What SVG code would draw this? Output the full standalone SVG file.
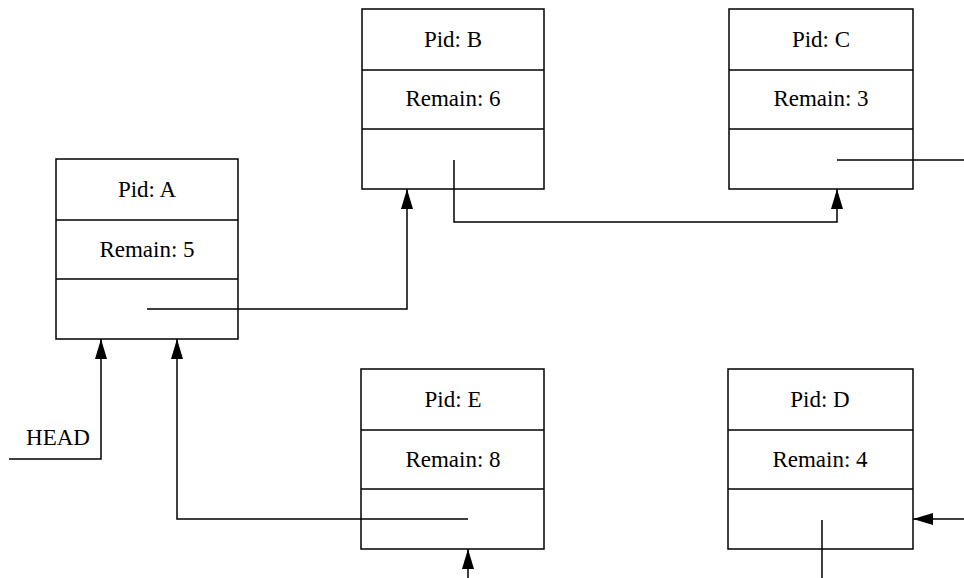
<svg xmlns="http://www.w3.org/2000/svg" width="964" height="578" viewBox="0 0 964 578">
  <style>
    .box { fill: #fff; stroke: #000; stroke-width: 1.5; }
    .div { stroke: #000; stroke-width: 1.5; }
    .lbl { font-family: "Liberation Serif", "Times New Roman", serif; font-size: 23px; fill: #000; text-anchor: middle; }
    .wire { fill: none; stroke: #000; stroke-width: 1.5; }
  </style>
  <defs>
    <marker id="arrow" viewBox="0 0 20 12" refX="20" refY="6" markerWidth="20" markerHeight="12" markerUnits="userSpaceOnUse" orient="auto">
      <path d="M0,0 L20,6 L0,12 z" fill="#000"/>
    </marker>
  </defs>
  <rect width="964" height="578" fill="#fff"/>

  <!-- process control blocks -->
  <g id="nodeA">
    <rect class="box" x="56" y="159" width="182" height="180"/>
    <line class="div" x1="56" y1="220" x2="238" y2="220"/>
    <line class="div" x1="56" y1="279" x2="238" y2="279"/>
    <text class="lbl" x="147" y="197">Pid: A</text>
    <text class="lbl" x="147" y="257">Remain: 5</text>
  </g>
  <g id="nodeB">
    <rect class="box" x="362" y="9" width="182" height="180"/>
    <line class="div" x1="362" y1="70" x2="544" y2="70"/>
    <line class="div" x1="362" y1="129" x2="544" y2="129"/>
    <text class="lbl" x="453" y="47">Pid: B</text>
    <text class="lbl" x="453" y="106">Remain: 6</text>
  </g>
  <g id="nodeC">
    <rect class="box" x="729" y="9" width="184" height="180"/>
    <line class="div" x1="729" y1="70" x2="913" y2="70"/>
    <line class="div" x1="729" y1="129" x2="913" y2="129"/>
    <text class="lbl" x="821" y="47">Pid: C</text>
    <text class="lbl" x="821" y="106">Remain: 3</text>
  </g>
  <g id="nodeE">
    <rect class="box" x="361" y="369" width="183" height="180"/>
    <line class="div" x1="361" y1="430" x2="544" y2="430"/>
    <line class="div" x1="361" y1="489" x2="544" y2="489"/>
    <text class="lbl" x="453" y="407">Pid: E</text>
    <text class="lbl" x="453" y="467">Remain: 8</text>
  </g>
  <g id="nodeD">
    <rect class="box" x="728" y="369" width="185" height="180"/>
    <line class="div" x1="728" y1="430" x2="913" y2="430"/>
    <line class="div" x1="728" y1="489" x2="913" y2="489"/>
    <text class="lbl" x="820" y="407">Pid: D</text>
    <text class="lbl" x="820" y="467">Remain: 4</text>
  </g>
  <g id="head">
    <text class="lbl" x="58" y="445">HEAD</text>
  </g>

  <!-- list pointers -->
  <g id="connectors">
    <path class="wire" d="M147,309 H407 V189" marker-end="url(#arrow)"/>
    <path class="wire" d="M454,160 V222 H837 V189" marker-end="url(#arrow)"/>
    <path class="wire" d="M837,160 H964"/>
    <path class="wire" d="M9,459 H101 V339" marker-end="url(#arrow)"/>
    <path class="wire" d="M468,519 H177 V339" marker-end="url(#arrow)"/>
    <path class="wire" d="M468,578 V549" marker-end="url(#arrow)"/>
    <path class="wire" d="M964,519 H913" marker-end="url(#arrow)"/>
    <path class="wire" d="M822,520 V578"/>
  </g>
</svg>
